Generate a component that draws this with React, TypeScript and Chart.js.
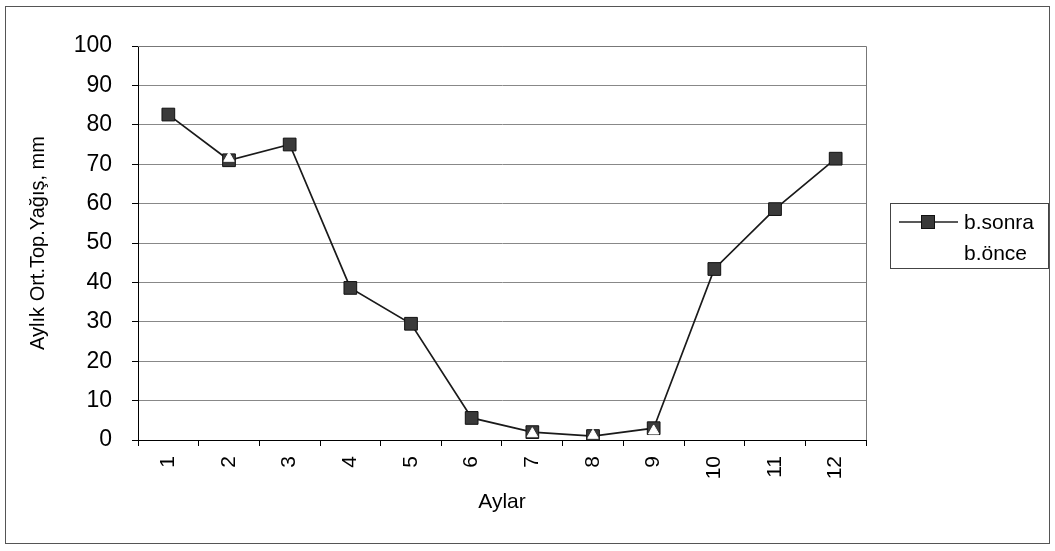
import React, { useEffect, useRef } from "react";
import { Chart, registerables } from "chart.js";

Chart.register(...registerables);

// ---- data ----
const months = ["1", "2", "3", "4", "5", "6", "7", "8", "9", "10", "11", "12"];
const sonraValues = [82.6, 71, 75, 38.6, 29.5, 5.6, 2, 1, 3, 43.4, 58.6, 71.4];
const onceValues = [null, 71.5, null, null, null, null, 1.6, 1.2, 2.3, null, null, null];
const seriesNames = ["b.sonra", "b.önce"];
const xTitle = "Aylar";
const yTitle = "Aylık Ort.Top.Yağış, mm";
const yMin = 0;
const yMax = 100;
const yStep = 10;

const FONT = "'Liberation Sans', Arial, Helvetica, sans-serif";

const framePlugin = {
  id: "framePlugin",
  beforeDraw(chart: any) {
    const ctx = chart.ctx;
    ctx.save();
    ctx.fillStyle = "#ffffff";
    ctx.fillRect(0, 0, chart.width, chart.height);
    ctx.restore();
  },
  afterDraw(chart: any) {
    const ctx = chart.ctx;
    const { left, right, top, bottom } = chart.chartArea;
    ctx.save();
    // outer frame
    ctx.strokeStyle = "#555";
    ctx.lineWidth = 1;
    ctx.strokeRect(5.5, 6.5, 1044, 537);
    // plot area top/right border
    ctx.strokeStyle = "#777";
    ctx.beginPath();
    ctx.moveTo(left, Math.round(top) + 0.5);
    ctx.lineTo(Math.round(right) + 0.5, Math.round(top) + 0.5);
    ctx.lineTo(Math.round(right) + 0.5, bottom);
    ctx.stroke();
    // legend box
    ctx.strokeStyle = "#444";
    ctx.strokeRect(890.5, 203.5, 158, 65);
    // entry 1: line + square marker
    ctx.strokeStyle = "#222";
    ctx.lineWidth = 1.5;
    ctx.beginPath();
    ctx.moveTo(899, 222);
    ctx.lineTo(958, 222);
    ctx.stroke();
    ctx.fillStyle = "#3a3a3a";
    ctx.strokeStyle = "#111";
    ctx.lineWidth = 1;
    ctx.fillRect(921.5, 215.5, 13, 13);
    ctx.strokeRect(921.5, 215.5, 13, 13);
    ctx.fillStyle = "#000";
    ctx.font = `21px ${FONT}`;
    ctx.textBaseline = "middle";
    ctx.textAlign = "left";
    ctx.fillText(seriesNames[0], 964, 223);
    ctx.fillText(seriesNames[1], 964, 254);
    ctx.restore();
  },
};

export default function App() {
  const canvasRef = useRef<HTMLCanvasElement | null>(null);

  useEffect(() => {
    document.body.style.margin = "0";
    const canvas = canvasRef.current;
    if (!canvas) return;
    const font = { family: FONT, size: 21 };
    const chart = new Chart(canvas, {
      type: "line",
      data: {
        labels: months,
        datasets: [
          {
            label: seriesNames[0],
            data: sonraValues,
            borderColor: "#1a1a1a",
            borderWidth: 1.7,
            backgroundColor: "#3a3a3a",
            pointStyle: "rect",
            pointRadius: 9,
            pointBorderColor: "#111",
            pointBackgroundColor: "#3a3a3a",
            pointBorderWidth: 1,
            tension: 0,
            order: 1,
          },
          {
            label: seriesNames[1],
            data: onceValues as any,
            showLine: false,
            borderColor: "#ffffff",
            backgroundColor: "#ffffff",
            pointStyle: "triangle",
            pointRadius: 6,
            pointBorderColor: "#ffffff",
            pointBackgroundColor: "#ffffff",
            pointBorderWidth: 1,
            order: 0,
          },
        ],
      },
      options: {
        responsive: false,
        animation: false,
        layout: { padding: { left: 0, top: 46, right: 189, bottom: 0 } },
        plugins: {
          legend: { display: false },
          tooltip: { enabled: false },
        },
        scales: {
          x: {
            type: "category",
            offset: true,
            grid: {
              offset: true,
              drawOnChartArea: false,
              drawTicks: true,
              tickLength: 6,
              color: "#000",
            },
            border: { display: true, color: "#000", width: 1 },
            ticks: {
              minRotation: 90,
              maxRotation: 90,
              autoSkip: false,
              font,
              color: "#000",
              padding: 10,
            },
            title: {
              display: true,
              text: xTitle,
              font,
              color: "#000",
              padding: { top: 0, bottom: 36 },
            },
            afterFit: (s: any) => {
              s.height = 111;
            },
          },
          y: {
            min: yMin,
            max: yMax,
            ticks: { stepSize: yStep, font: { family: FONT, size: 23 }, color: "#000", padding: 20 },
            grid: { color: "#888", tickLength: 6, tickColor: "#000", lineWidth: 1 },
            border: { display: true, color: "#000", width: 1 },
            title: {
              display: true,
              text: yTitle,
              font: { family: FONT, size: 20 },
              color: "#000",
              padding: { top: 26, bottom: 0 },
            },
            afterFit: (s: any) => {
              s.width = 138;
            },
          },
        },
      },
      plugins: [framePlugin],
    });
    return () => chart.destroy();
  }, []);

  return (
    <div style={{ width: 1055, height: 551 }}>
      <canvas ref={canvasRef} width={1055} height={551} />
    </div>
  );
}
